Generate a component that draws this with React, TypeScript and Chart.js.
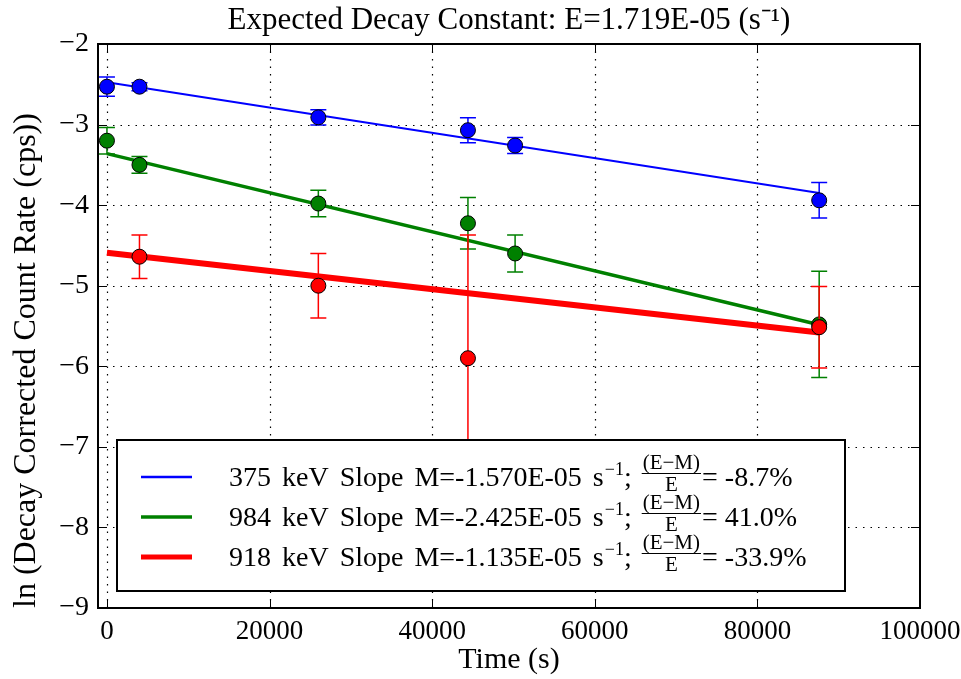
import { useEffect, useRef } from 'react';
import { Chart, registerables } from 'chart.js';

Chart.register(...registerables);

const FONT = '"Liberation Serif", "Times New Roman", serif';

// ---- text ----
const titleText = 'Expected Decay Constant: E=1.719E-05 (s\u207B\u00B9)';
const xTitle = 'Time (s)';
const yTitle = 'ln (Decay Corrected Count Rate (cps))';

// ---- ticks ----
const xTicks = [0, 20000, 40000, 60000, 80000, 100000];
const yTicks = [-9, -8, -7, -6, -5, -4, -3, -2];

// ---- series meta ----
const seriesNames = ['375 keV', '984 keV', '918 keV'];
const slopes = ['-1.570E-05', '-2.425E-05', '-1.135E-05'];
const pctDiff = ['-8.7%', '41.0%', '-33.9%'];
const colors = ['#0000ff', '#008000', '#ff0000'];

// ---- measured points (time s, ln rate, error) ----
const blueTime = [0, 4000, 26000, 44400, 50200, 87600];
const blueLn = [-2.53, -2.53, -2.91, -3.07, -3.26, -3.94];
const blueErr = [0.12, 0.05, 0.095, 0.155, 0.1, 0.22];

const greenTime = [0, 4000, 26000, 44400, 50200, 87600];
const greenLn = [-3.2, -3.5, -3.98, -4.225, -4.6, -5.48];
const greenErr = [0.165, 0.105, 0.165, 0.32, 0.23, 0.66];

const redTime = [4000, 26000, 44400, 87600];
const redLn = [-4.64, -5.0, -5.9, -5.515];
const redErr = [0.27, 0.4, 1.53, 0.505];

// ---- fitted lines (endpoints) ----
const fitTime = [0, 87600];
const blueFit = [-2.475, -3.85];
const greenFit = [-3.36, -5.485];
const redFit = [-4.59, -5.58];

const X_MIN = -1100;
const X_MAX = 100000;
const Y_MIN = -9;
const Y_MAX = -2;

const pts = (xs: number[], ys: number[]) => xs.map((x, i) => ({ x, y: ys[i] }));

const fitLineWidths = [2, 3.5, 6];
const legendLineWidths = [2.5, 3.5, 5];

const errorBarPlugin = {
  id: 'errorBars',
  beforeDatasetDraw(chart: any, args: any) {
    const ds = chart.data.datasets[args.index];
    if (!ds.errors) return;
    const { ctx, chartArea: ca } = chart;
    const xs = chart.scales.x;
    const ys = chart.scales.y;
    ctx.save();
    ctx.beginPath();
    ctx.rect(ca.left, ca.top, ca.right - ca.left, ca.bottom - ca.top);
    ctx.clip();
    ctx.strokeStyle = ds.backgroundColor;
    ctx.lineWidth = 1.5;
    ds.data.forEach((p: any, i: number) => {
      const e = ds.errors[i];
      const px = xs.getPixelForValue(p.x);
      const y1 = ys.getPixelForValue(p.y + e);
      const y2 = ys.getPixelForValue(p.y - e);
      ctx.beginPath();
      ctx.moveTo(px, y1);
      ctx.lineTo(px, y2);
      ctx.moveTo(px - 8, y1);
      ctx.lineTo(px + 8, y1);
      ctx.moveTo(px - 8, y2);
      ctx.lineTo(px + 8, y2);
      ctx.stroke();
    });
    ctx.restore();
  },
};

const gridPlugin = {
  id: 'mplGrid',
  beforeDatasetsDraw(chart: any) {
    const { ctx, chartArea: ca } = chart;
    const xs = chart.scales.x;
    const ys = chart.scales.y;
    ctx.save();
    ctx.strokeStyle = '#000';
    ctx.lineWidth = 1.2;
    ctx.setLineDash([1.5, 6]);
    xs.ticks.forEach((t: any) => {
      const px = Math.round(xs.getPixelForValue(t.value)) + 0.5;
      if (px <= ca.left + 1 || px >= ca.right - 1) return;
      ctx.beginPath();
      ctx.moveTo(px, ca.top);
      ctx.lineTo(px, ca.bottom);
      ctx.stroke();
    });
    ys.ticks.forEach((t: any) => {
      const py = Math.round(ys.getPixelForValue(t.value)) + 0.5;
      if (py <= ca.top + 1 || py >= ca.bottom - 1) return;
      ctx.beginPath();
      ctx.moveTo(ca.left, py);
      ctx.lineTo(ca.right, py);
      ctx.stroke();
    });
    ctx.restore();
  },
};

const framePlugin = {
  id: 'mplFrame',
  afterDatasetsDraw(chart: any) {
    const { ctx, chartArea: ca } = chart;
    const xs = chart.scales.x;
    const ys = chart.scales.y;
    ctx.save();
    ctx.strokeStyle = '#000';
    ctx.lineWidth = 1;
    const tl = 9;
    xs.ticks.forEach((t: any) => {
      const px = Math.round(xs.getPixelForValue(t.value)) + 0.5;
      ctx.beginPath();
      ctx.moveTo(px, ca.bottom);
      ctx.lineTo(px, ca.bottom - tl);
      ctx.moveTo(px, ca.top);
      ctx.lineTo(px, ca.top + tl);
      ctx.stroke();
    });
    ys.ticks.forEach((t: any) => {
      const py = Math.round(ys.getPixelForValue(t.value)) + 0.5;
      ctx.beginPath();
      ctx.moveTo(ca.left, py);
      ctx.lineTo(ca.left + tl, py);
      ctx.moveTo(ca.right, py);
      ctx.lineTo(ca.right - tl, py);
      ctx.stroke();
    });
    ctx.lineWidth = 2;
    ctx.strokeRect(ca.left, ca.top, ca.right - ca.left, ca.bottom - ca.top);

    // legend
    const left = ca.left + 19;
    const top = ca.bottom - 168;
    const w = 728;
    const h = 151;
    ctx.fillStyle = '#fff';
    ctx.fillRect(left, top, w, h);
    ctx.strokeRect(left, top, w, h);
    const mainFont = `28px ${FONT}`;
    const supFont = `18px ${FONT}`;
    const fracFont = `21px ${FONT}`;
    seriesNames.forEach((name, i) => {
      const y = top + 37 + i * 40;
      ctx.strokeStyle = colors[i];
      ctx.lineWidth = legendLineWidths[i];
      ctx.beginPath();
      ctx.moveTo(left + 24, y);
      ctx.lineTo(left + 75, y);
      ctx.stroke();
      ctx.fillStyle = '#000';
      ctx.textBaseline = 'alphabetic';
      ctx.textAlign = 'left';
      const base = y + 9;
      let x = left + 112;
      ctx.font = mainFont;
      (ctx as any).wordSpacing = '4px';
      const s1 = `${name} Slope M=${slopes[i]} s`;
      ctx.fillText(s1, x, base);
      x += ctx.measureText(s1).width + 1;
      (ctx as any).wordSpacing = '0px';
      ctx.font = supFont;
      const sup = '\u22121';
      ctx.fillText(sup, x, base - 11);
      x += ctx.measureText(sup).width;
      ctx.font = mainFont;
      ctx.fillText(';', x, base);
      x += ctx.measureText('; ').width + 3;
      ctx.font = fracFont;
      const num = '(E\u2212M)';
      const nw = ctx.measureText(num).width;
      ctx.fillText(num, x + 1, y - 8);
      ctx.textAlign = 'center';
      ctx.fillText('E', x + 1 + nw / 2, y + 14);
      ctx.textAlign = 'left';
      ctx.strokeStyle = '#000';
      ctx.lineWidth = 1;
      ctx.beginPath();
      ctx.moveTo(x, y - 3.5);
      ctx.lineTo(x + nw + 2, y - 3.5);
      ctx.stroke();
      x += nw + 3;
      ctx.font = mainFont;
      ctx.fillText(`= ${pctDiff[i]}`, x, base);
    });
    ctx.restore();
  },
};

export default function App() {
  const ref = useRef<HTMLCanvasElement | null>(null);
  useEffect(() => {
    if (!ref.current) return;
    const pointSets = [
      { t: blueTime, v: blueLn, e: blueErr },
      { t: greenTime, v: greenLn, e: greenErr },
      { t: redTime, v: redLn, e: redErr },
    ];
    const fits = [blueFit, greenFit, redFit];
    const datasets: any[] = [];
    fits.forEach((f, i) => {
      datasets.push({
        label: `${seriesNames[i]} fit`,
        data: pts(fitTime, f),
        showLine: true,
        borderColor: colors[i],
        borderWidth: fitLineWidths[i],
        pointRadius: 0,
        fill: false,
        order: 12 - i,
      });
    });
    pointSets.forEach((s, i) => {
      datasets.push({
        label: seriesNames[i],
        data: pts(s.t, s.v),
        errors: s.e,
        showLine: false,
        backgroundColor: colors[i],
        borderColor: '#000',
        borderWidth: 1,
        pointRadius: 7.5,
        pointHoverRadius: 7.5,
        order: 2 - i,
      });
    });
    const chart = new Chart(ref.current, {
      type: 'scatter',
      data: { datasets },
      options: {
        animation: false,
        responsive: false,
        devicePixelRatio: 1,
        events: [],
        layout: { padding: { top: 0, right: 41, left: 0, bottom: 0 } },
        plugins: {
          legend: { display: false },
          tooltip: { enabled: false },
          title: {
            display: true,
            fullSize: false,
            text: titleText,
            color: '#000',
            font: { family: FONT, size: 31, weight: 'normal', lineHeight: 1.2 },
            padding: { top: 2, bottom: 4.8 },
          },
        },
        scales: {
          x: {
            type: 'linear',
            min: X_MIN,
            max: X_MAX,
            afterBuildTicks: (s: any) => {
              s.ticks = xTicks.map((v) => ({ value: v }));
            },
            afterFit: (s: any) => {
              s.height = 71;
            },
            ticks: {
              color: '#000',
              font: { family: FONT, size: 27 },
              maxRotation: 0,
              autoSkip: false,
              padding: 0,
              callback: (v: any) => String(v),
            },
            grid: { display: false },
            border: { display: false },
            title: {
              display: true,
              text: xTitle,
              color: '#000',
              font: { family: FONT, size: 30 },
              padding: { top: 0, bottom: 1 },
            },
          },
          y: {
            type: 'linear',
            min: Y_MIN,
            max: Y_MAX,
            afterBuildTicks: (s: any) => {
              s.ticks = yTicks.map((v) => ({ value: v }));
            },
            afterFit: (s: any) => {
              s.width = 98;
            },
            ticks: {
              color: '#000',
              font: { family: FONT, size: 28 },
              autoSkip: false,
              padding: 1,
              callback: (v: any) => String(v).replace('-', '\u2212'),
            },
            grid: { display: false },
            border: { display: false },
            title: {
              display: true,
              align: 'start',
              text: yTitle,
              color: '#000',
              font: { family: FONT, size: 32 },
              padding: { top: 7, bottom: 0 },
            },
          },
        },
      },
      plugins: [gridPlugin, errorBarPlugin, framePlugin],
    } as any);
    return () => chart.destroy();
  }, []);
  return (
    <div style={{ position: 'absolute', left: 0, top: 0, width: 961, height: 679, background: '#fff' }}>
      <canvas ref={ref} width={961} height={679} style={{ display: 'block' }} />
    </div>
  );
}
